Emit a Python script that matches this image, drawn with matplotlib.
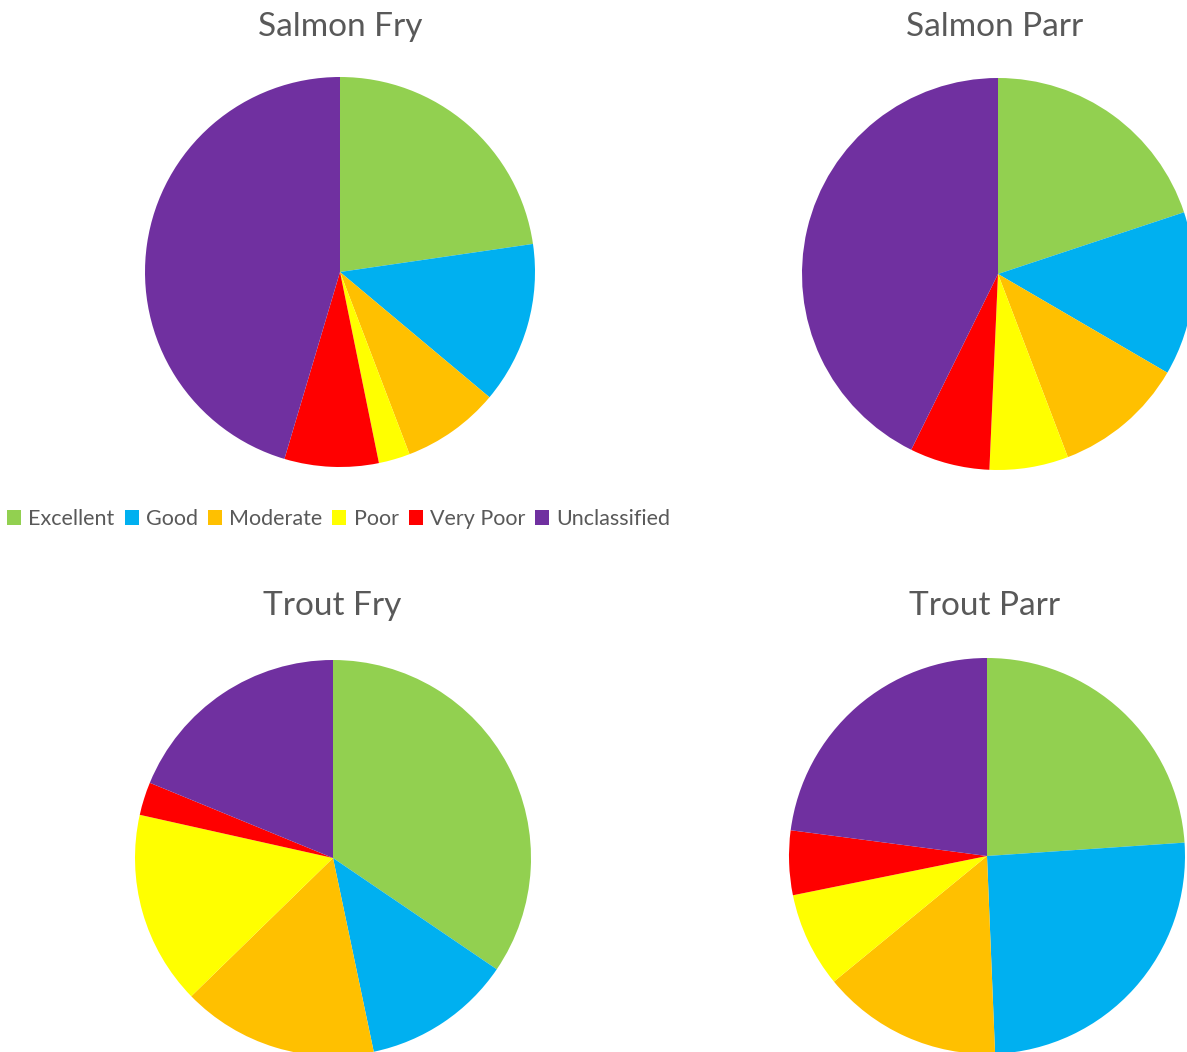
import matplotlib
matplotlib.use("Agg")
import matplotlib.pyplot as plt
from matplotlib.patches import Patch

# Share of sampled sites in each classification band (%)
categories = ["Excellent", "Good", "Moderate", "Poor", "Very Poor", "Unclassified"]
colors = ["#92D050", "#00B0F0", "#FFC000", "#FFFF00", "#FF0000", "#7030A0"]

salmon_fry = [22.7, 13.4, 8.1, 2.6, 7.8, 45.4]
salmon_parr = [19.9, 13.5, 10.8, 6.5, 6.6, 42.7]
trout_fry = [34.5, 12.2, 16.0, 15.8, 2.7, 18.8]
trout_parr = [23.9, 25.4, 14.7, 7.75, 5.25, 22.9]

titles = ["Salmon Fry", "Salmon Parr", "Trout Fry", "Trout Parr"]
series = [salmon_fry, salmon_parr, trout_fry, trout_parr]

W, H = 1187, 1052
fig = plt.figure(figsize=(W / 100, H / 100), dpi=100)
fig.patch.set_facecolor("white")

FONT = ["Lato", "DejaVu Sans"]
GREY = "#595959"

# pie centre (px from top-left), radius (px), title centre (px)
layout = [
    ((340, 272), 195, (340, 27)),
    ((998, 274), 196, (995, 27)),
    ((333, 858), 198, (332, 606)),
    ((987, 856), 198, (985, 606)),
]

for vals, title, ((cx, cy), r, (tx, ty)) in zip(series, titles, layout):
    ax = fig.add_axes([(cx - r) / W, 1 - (cy + r) / H, 2 * r / W, 2 * r / H])
    wedges, _ = ax.pie(vals, colors=colors, startangle=90, counterclock=False,
                       radius=1, wedgeprops=dict(linewidth=0))
    for w in wedges:
        w.set_clip_on(False)
    ax.set_xlim(-1, 1)
    ax.set_ylim(-1, 1)
    ax.set_aspect("equal")
    ax.axis("off")
    fig.text(tx / W, 1 - ty / H, title, ha="center", va="center",
             fontsize=24, color=GREY, family=FONT)

handles = [Patch(facecolor=c, edgecolor="none") for c in colors]
fig.legend(handles, categories, loc="center left",
           bbox_to_anchor=(3 / W, 1 - 519 / H), ncol=6, frameon=False,
           prop=dict(family=FONT, size=15.5), labelcolor=GREY,
           handlelength=0.65, handleheight=0.65, handletextpad=0.33,
           columnspacing=0.47, borderpad=0.2, borderaxespad=0.0)

fig.savefig("out.png", dpi=100, facecolor="white")
